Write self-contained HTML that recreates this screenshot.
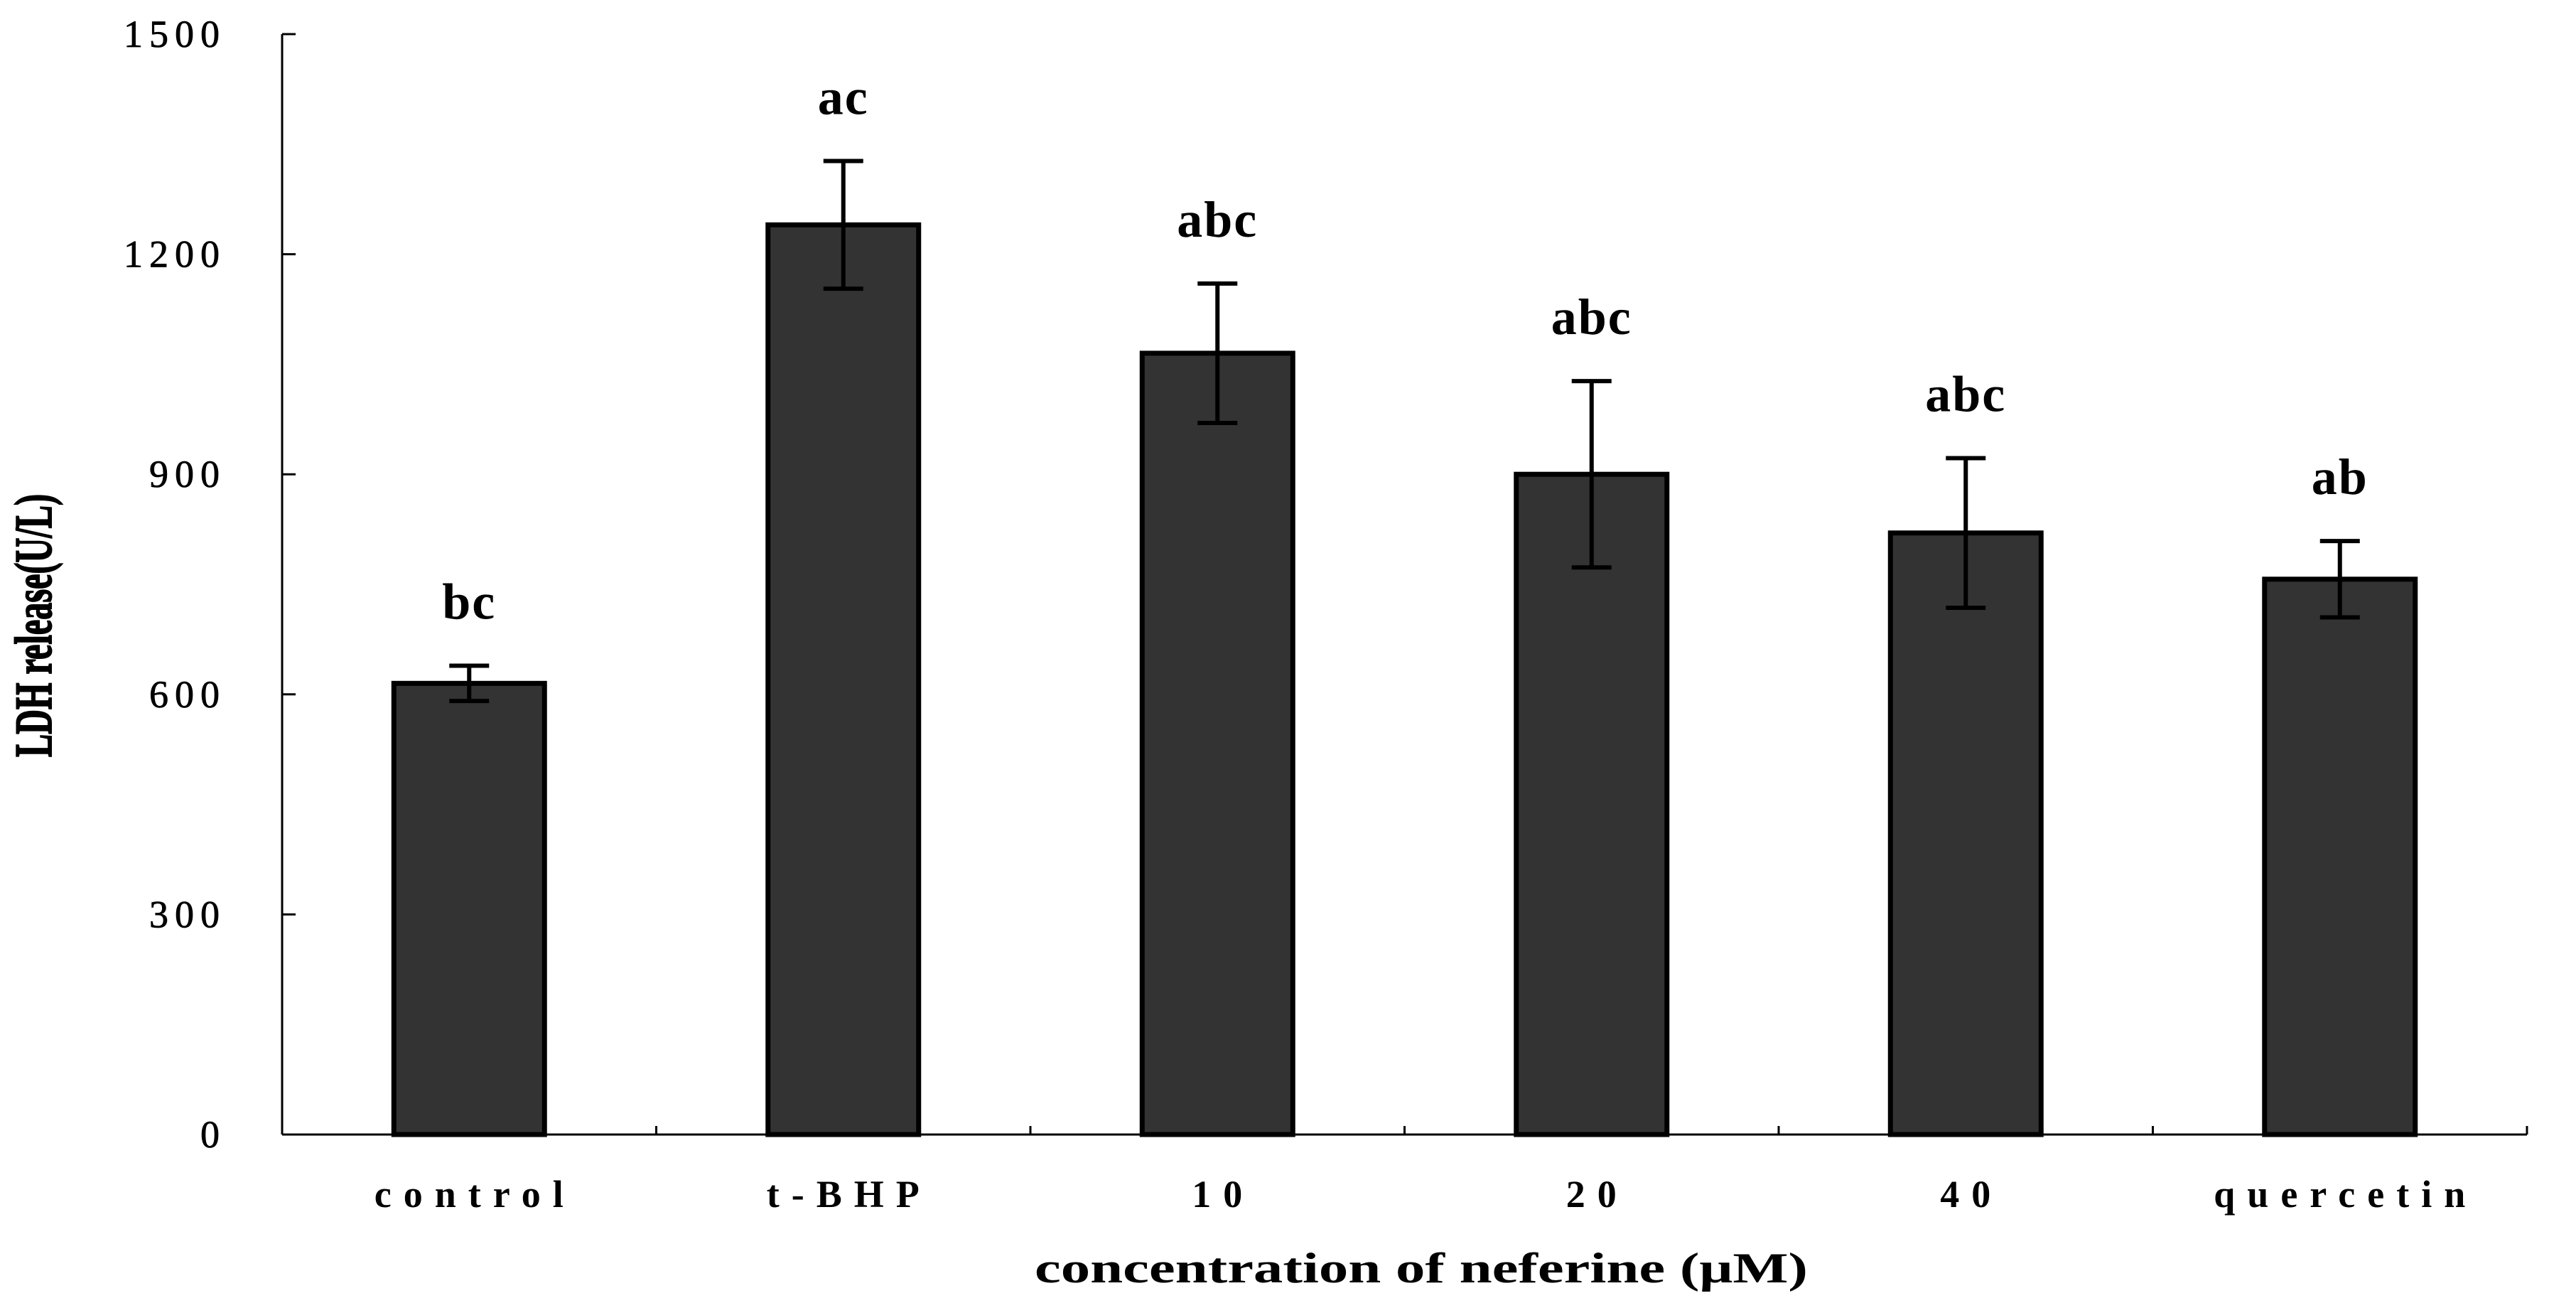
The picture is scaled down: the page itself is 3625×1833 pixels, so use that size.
<!DOCTYPE html>
<html><head><meta charset="utf-8"><style>
html,body{margin:0;padding:0;background:#fff;}
svg{display:block;}
</style></head><body>
<svg id="chart" width="3625" height="1833" viewBox="0 0 3625 1833" xmlns="http://www.w3.org/2000/svg">
<g id="axes"></g><g id="bars"></g>
<text transform="translate(72,880) rotate(-90)" text-anchor="middle" font-family="Liberation Serif, serif" font-weight="bold" font-size="74" stroke="#000" stroke-width="2" textLength="370" lengthAdjust="spacingAndGlyphs">LDH release(U/L)</text>
<text x="2000" y="1804" text-anchor="middle" font-family="Liberation Serif, serif" font-weight="bold" font-size="60" textLength="1088" lengthAdjust="spacingAndGlyphs">concentration of neferine (μM)</text>
</svg>
<script>
const categories = ["control","t-BHP","10","20","40","quercetin"];
const values = [615,1240,1065,900,820,757];
const errors = [24,87,95,127,102,52];
const sigLabels = ["bc","ac","abc","abc","abc","ab"];
const yTicks = [0,300,600,900,1200,1500];

const NS="http://www.w3.org/2000/svg";
const X0=397, X1=3556, Y0=1596, YTOP=48, YMAX=1500;
const catW=(X1-X0)/categories.length;
function y(v){return Y0-(v/YMAX)*(Y0-YTOP);}
function xc(i){return X0+catW*(i+0.5);}
function mk(tag,attrs,parent){const e=document.createElementNS(NS,tag);for(const k in attrs)e.setAttribute(k,attrs[k]);parent.appendChild(e);return e;}
const axes=document.getElementById('axes'), bars=document.getElementById('bars');

let l=mk('line',{x1:X0,y1:YTOP,x2:X0,y2:Y0,stroke:'#000','stroke-width':3},axes);


l=mk('line',{x1:X0,y1:Y0,x2:X1,y2:Y0,stroke:'#000','stroke-width':3},axes);



yTicks.forEach(v=>{
  const t=mk('line',{x1:X0,y1:y(v),x2:X0+19,y2:y(v),stroke:'#000','stroke-width':3},axes);
  
  
  const tx=mk('text',{x:318,y:y(v)+18,'text-anchor':'end','font-family':'Liberation Serif, serif','font-size':54,'letter-spacing':9,stroke:'#000','stroke-width':0.8},axes);
  tx.textContent=String(v);
  
  
});
for(let i=1;i<=categories.length;i++){
  const t=mk('line',{x1:X0+catW*i,y1:Y0,x2:X0+catW*i,y2:Y0-12,stroke:'#000','stroke-width':3},axes);
  
  
}
const bw=212;
categories.forEach((c,i)=>{
  const cx=xc(i), top=y(values[i]);
  const r=mk('rect',{x:cx-bw/2,y:top,width:bw,height:Y0-top,fill:'#333',stroke:'#000','stroke-width':7},bars);
  
  
  const hi=y(values[i]+errors[i]), lo=y(values[i]-errors[i]);
  const g=mk('g',{stroke:'#000','stroke-width':6},bars);
  
  
  mk('line',{x1:cx,y1:hi,x2:cx,y2:lo},g);
  mk('line',{x1:cx-28,y1:hi,x2:cx+28,y2:hi},g);
  mk('line',{x1:cx-28,y1:lo,x2:cx+28,y2:lo},g);
  const s=mk('text',{x:cx,y:hi-66,'text-anchor':'middle','font-family':'Liberation Serif, serif','font-weight':'bold','font-size':72,'letter-spacing':2},bars);
  s.textContent=sigLabels[i];
  
  
  const xl=mk('text',{x:cx+8,y:1698,'text-anchor':'middle','font-family':'Liberation Serif, serif','font-weight':'bold','font-size':54,'letter-spacing':17},axes);
  xl.textContent=c;
  
  
});
</script>
</body></html>
